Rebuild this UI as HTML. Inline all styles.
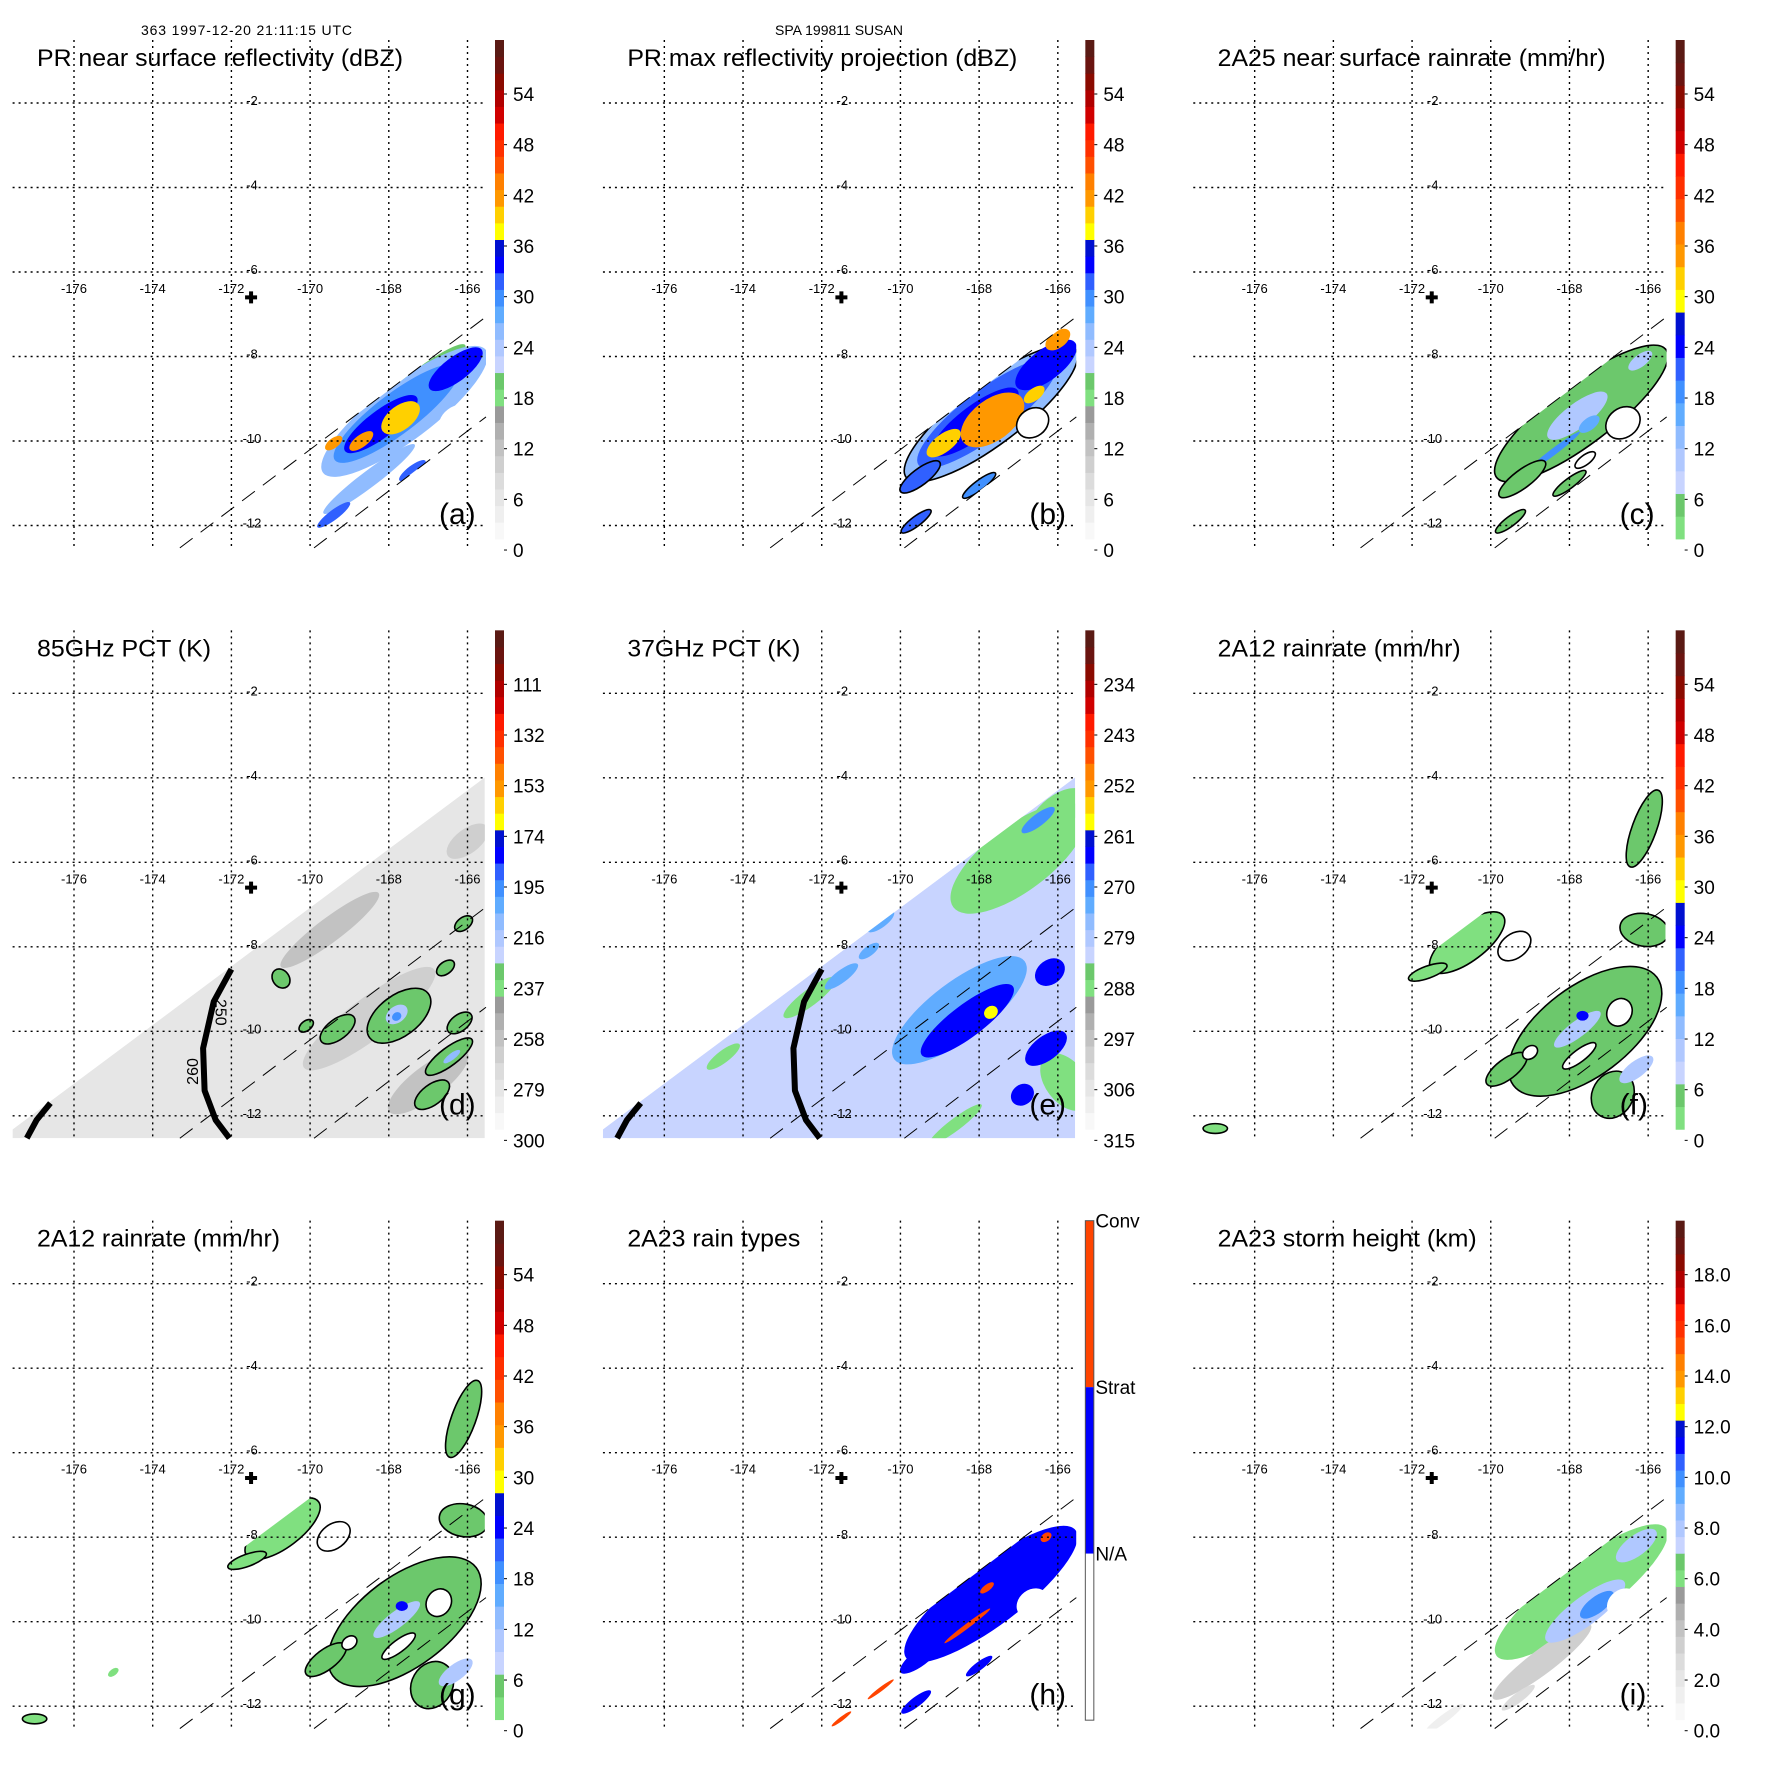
<!DOCTYPE html>
<html><head><meta charset="utf-8"><title>TRMM SUSAN 1997-12-20</title>
<style>body{margin:0;background:#fff}svg{display:block;font-family:"Liberation Sans",Arial,sans-serif}</style>
</head><body>
<svg id="fig" width="1771" height="1771" viewBox="0 0 1771 1771"><defs id="defs"></defs><rect width="1771" height="1771" fill="#fff"/></svg>
<script>
// ---------- tick labels ----------
const lonTicks=[-176,-174,-172,-170,-168,-166];
const latTicks=[-2,-4,-6,-8,-10,-12];
const dbzTicks=['54','48','42','36','30','24','18','12','6','0'];
const pct85Ticks=['111','132','153','174','195','216','237','258','279','300'];
const pct37Ticks=['234','243','252','261','270','279','288','297','306','315'];
const heightTicks=['18.0','16.0','14.0','12.0','10.0','8.0','6.0','4.0','2.0','0.0'];
const rainTypeLabels=['Conv','Strat','N/A'];
const centerLon=-171.5, centerLat=-6.6;
const dBase=283, eBase=283;
// ---------- panel (a) PR near-surface dBZ ----------
const aLon=[-167.3,-167.6,-167.8,-168.2,-166.3,-167.7,-168.7,-169.4,-166.3,-168.5,-169.4,-167.4];
const aLat=[-8.6,-9.3,-9.35,-9.6,-8.3,-9.45,-10.0,-10.05,-9.5,-10.9,-11.75,-10.7];
const aRx=[1.5,2.5,1.9,1.1,0.8,0.55,0.35,0.25,0.45,1.4,0.5,0.4];
const aRy=[0.25,0.7,0.5,0.33,0.3,0.3,0.15,0.12,0.32,0.2,0.12,0.12];
const aVal=[18,25,29,33,32,39,41,40,-1,25,30,31];
// ---------- panel (b) PR max dBZ ----------
const bLon=[-167.7,-167.8,-168.1,-166.3,-167.66,-168.9,-166.0,-166.64,-169.5,-169.6,-168.0,-166.6];
const bLat=[-9.35,-9.35,-9.55,-8.2,-9.5,-10.05,-7.6,-9.57,-10.85,-11.9,-11.05,-8.9];
const bRx=[2.6,2.1,1.3,0.9,0.9,0.5,0.35,0.42,0.6,0.45,0.5,0.3];
const bRy=[0.75,0.58,0.4,0.38,0.5,0.22,0.2,0.34,0.2,0.12,0.12,0.15];
const bVal=[24,30,33,32,41,39,40,-1,30,30,28,38];
const bOut=[1,0,0,0,0,0,0,1,1,1,1,0];
// ---------- panel (c) 2A25 rainrate ----------
const cLon=[-167.7,-167.8,-167.5,-168.4,-166.2,-166.64,-169.2,-169.5,-168.0,-167.6];
const cLat=[-9.35,-9.4,-9.6,-10.25,-8.1,-9.57,-10.9,-11.9,-11.0,-10.45];
const cRx=[2.6,0.9,0.3,0.8,0.35,0.45,0.7,0.45,0.5,0.3];
const cRy=[0.75,0.3,0.15,0.08,0.15,0.36,0.22,0.12,0.12,0.12];
const cVal=[3,9,16,18,9,-1,3,3,3,-1];
const cOut=[1,0,0,0,0,1,1,1,1,1];
// ---------- panel (d) 85GHz PCT ----------
const dLon=[-169.5,-168.5,-167.0,-166.0,-167.74,-169.3,-166.47,-166.2,-166.9,-170.74,-166.56,-166.1,-170.1,-167.8,-167.8,-166.4];
const dLat=[-7.6,-9.7,-11.2,-5.5,-9.63,-9.95,-10.6,-9.8,-11.5,-8.75,-8.5,-7.45,-9.87,-9.6,-9.65,-10.6];
const dRx=[1.5,2.0,1.2,0.6,0.9,0.5,0.7,0.35,0.5,0.2,0.25,0.25,0.2,0.3,0.12,0.25];
const dRy=[0.3,0.5,0.4,0.3,0.5,0.25,0.22,0.2,0.25,0.25,0.15,0.15,0.12,0.2,0.1,0.08];
const dVal=[265,268,265,270,235,235,235,235,235,235,235,235,235,222,200,215];
const dOut=[0,0,0,0,1,1,1,1,1,1,1,1,1,0,0,0];
// ---------- panel (e) 37GHz PCT ----------
const eLon=[-167.0,-166.0,-165.8,-172.3,-174.5,-168.6,-170.5,-171.5,-170.8,-166.5,-168.5,-168.3,-166.2,-166.3,-166.9,-167.7];
const eLat=[-5.9,-4.8,-11.2,-9.2,-10.6,-12.2,-7.4,-8.7,-8.1,-5.0,-9.5,-9.75,-8.6,-10.4,-11.5,-9.55];
const eRx=[2.0,0.8,0.5,0.8,0.5,0.8,0.4,0.5,0.3,0.5,2.0,1.4,0.4,0.6,0.3,0.18];
const eRy=[0.8,0.4,0.8,0.2,0.15,0.15,0.15,0.15,0.12,0.15,0.7,0.4,0.3,0.3,0.25,0.15];
const eVal=[289,289,289,289,289,289,275,275,275,273,276,266,266,266,266,259];
// ---------- panel (f) 2A12 rainrate ----------
const fLon=[-170.6,-171.6,-167.6,-166.1,-166.1,-166.9,-169.6,-169.4,-166.73,-167.75,-169.0,-169.0,-167.8,-167.67,-166.3,-177.0];
const fLat=[-7.9,-8.6,-10.0,-5.2,-7.6,-11.5,-10.9,-7.98,-9.55,-10.58,-10.5,-8.9,-9.95,-9.63,-10.9,-12.3];
const fRx=[1.1,0.5,2.2,1.0,0.4,0.6,0.6,0.45,0.35,0.5,0.2,0.5,0.7,0.15,0.5,0.3];
const fRy=[0.45,0.15,1.1,0.3,0.6,0.5,0.25,0.3,0.3,0.15,0.15,0.3,0.2,0.12,0.2,0.12];
const fRot=[-37,-20,-37,-70,-80,-60,-37,-37,-60,-37,-37,-37,-37,0,-37,0];
const fVal=[2,2,3,3,3,3,3,-1,-1,-1,-1,-1,10,22,10,2];
const fOut=[1,1,1,1,1,1,1,1,1,1,1,0,0,0,0,1];
// ---------- panel (g) 2A12 rainrate ----------
const gLon=[-170.7,-171.6,-167.6,-166.1,-166.1,-166.9,-169.6,-169.4,-166.73,-167.75,-169.0,-169.0,-167.8,-167.67,-166.3,-177.0,-175.0];
const gLat=[-7.8,-8.55,-10.0,-5.2,-7.6,-11.5,-10.9,-7.98,-9.55,-10.58,-10.5,-8.9,-9.95,-9.63,-11.2,-12.3,-11.2];
const gRx=[1.1,0.5,2.2,1.0,0.4,0.6,0.6,0.45,0.35,0.5,0.2,0.5,0.7,0.15,0.5,0.3,0.15];
const gRy=[0.45,0.15,1.1,0.3,0.6,0.5,0.25,0.3,0.3,0.15,0.15,0.3,0.2,0.12,0.2,0.12,0.08];
const gRot=[-37,-20,-37,-70,-80,-60,-37,-37,-60,-37,-37,-37,-37,0,-37,0,-37];
const gVal=[2,2,3,3,3,3,3,-1,-1,-1,-1,-1,10,22,10,2,2];
const gOut=[1,1,1,1,1,1,1,1,1,1,1,0,0,0,0,1,0];
// ---------- panel (h) 2A23 rain type (0 none, 1 strat, 2 conv) ----------
const hLon=[-167.7,-166.64,-168.3,-167.8,-166.3,-169.5,-169.6,-168.0,-170.5,-171.5];
const hLat=[-9.35,-9.57,-10.1,-9.2,-8.0,-10.85,-11.9,-11.05,-11.6,-12.3];
const hRx=[2.6,0.42,0.7,0.2,0.15,0.6,0.45,0.4,0.4,0.3];
const hRy=[0.75,0.34,0.06,0.08,0.1,0.2,0.12,0.1,0.05,0.05];
const hVal=[1,0,2,2,2,1,1,1,2,2];
// ---------- panel (i) storm height km ----------
const iLon=[-167.7,-168.7,-167.6,-167.3,-166.64,-167.4,-169.3,-171.2,-166.3];
const iLat=[-9.3,-10.95,-9.75,-9.6,-9.57,-11.1,-11.8,-12.3,-8.2];
const iRx=[2.6,1.5,1.2,0.5,0.42,0.5,0.5,0.6,0.6];
const iRy=[0.7,0.3,0.35,0.2,0.34,0.2,0.12,0.1,0.25];
const iVal=[5.8,3,7.5,9.5,-1,5.8,2,1,7.5];

// ---------- palettes ----------
const palA=['#f8f8f8','#efefef','#e6e6e6','#dcdcdc','#cfcfcf','#c2c2c2','#b0b0b0','#9a9a9a','#80e080','#6cc86c','#c8d4ff','#b0c8ff','#90bcff','#60acff','#4090ff','#3060ff','#0000ff','#0010d0','#ffff00','#ffd000','#ff9800','#ff8000','#ff5000','#ff3000','#ff1a00','#d00000','#b00000','#8a0a00','#6a1410','#5a1a14'];
const palC=palA.slice(8);
function colA(u){let i=Math.floor(u/2);i=Math.max(0,Math.min(29,i));return palA[i];}
function colC(v){let i=Math.floor(v/60*22);i=Math.max(0,Math.min(21,i));return palC[i];}

const NS='http://www.w3.org/2000/svg';
const svg=document.getElementById('fig');
const defs=document.getElementById('defs');
function mk(tag,parent){const e=document.createElementNS(NS,tag);(parent||svg).appendChild(e);return e;}
function X(lon){return 74+(lon+176)*39.35;}
function Y(lat){return 103+(-2-lat)*42.25;}
const prSwath=[[-173.31,-12.53],[-165.53,-7.06],[-165.53,-9.43],[-169.9,-12.53]];
const tmiSwath=[[-177.56,-12.32],[-165.56,-3.99],[-165.56,-12.53],[-177.56,-12.53]];
const arcMain=[[-172.0,-8.53],[-172.45,-9.3],[-172.72,-10.4],[-172.68,-11.4],[-172.4,-12.1],[-172.05,-12.53]];
const arcSmall=[[-176.6,-11.7],[-176.95,-12.1],[-177.2,-12.53]];
function pts(arr){return arr.map(p=>X(p[0]).toFixed(1)+','+Y(p[1]).toFixed(1)).join(' ');}

const S=1771/3;
const panels=[
 {k:'a',c:0,r:0,title:'PR near surface reflectivity (dBZ)',tw:366,sw:prSwath,lon:aLon,lat:aLat,rx:aRx,ry:aRy,val:aVal,col:v=>colA(v),bar:'A',ticks:dbzTicks},
 {k:'b',c:1,r:0,title:'PR max reflectivity projection (dBZ)',tw:390,sw:prSwath,lon:bLon,lat:bLat,rx:bRx,ry:bRy,val:bVal,out:bOut,col:v=>colA(v),bar:'A',ticks:dbzTicks},
 {k:'c',c:2,r:0,title:'2A25 near surface rainrate (mm/hr)',tw:388,sw:prSwath,lon:cLon,lat:cLat,rx:cRx,ry:cRy,val:cVal,out:cOut,col:v=>colC(v),bar:'C',ticks:dbzTicks},
 {k:'d',c:0,r:1,title:'85GHz PCT (K)',tw:174,sw:tmiSwath,base:colA((300-dBase)/21*6),arcs:true,lon:dLon,lat:dLat,rx:dRx,ry:dRy,val:dVal,out:dOut,col:v=>colA((300-v)/21*6),bar:'A',ticks:pct85Ticks},
 {k:'e',c:1,r:1,title:'37GHz PCT (K)',tw:173,sw:tmiSwath,base:colA((315-eBase)/9*6),arcs:true,lon:eLon,lat:eLat,rx:eRx,ry:eRy,val:eVal,col:v=>colA((315-v)/9*6),bar:'A',ticks:pct37Ticks},
 {k:'f',c:2,r:1,title:'2A12 rainrate (mm/hr)',tw:243,sw:tmiSwath,lon:fLon,lat:fLat,rx:fRx,ry:fRy,rot:fRot,val:fVal,out:fOut,col:v=>colC(v),bar:'C',ticks:dbzTicks},
 {k:'g',c:0,r:2,title:'2A12 rainrate (mm/hr)',tw:243,sw:tmiSwath,lon:gLon,lat:gLat,rx:gRx,ry:gRy,rot:gRot,val:gVal,out:gOut,col:v=>colC(v),bar:'C',ticks:dbzTicks},
 {k:'h',c:1,r:2,title:'2A23 rain types',tw:173,sw:prSwath,lon:hLon,lat:hLat,rx:hRx,ry:hRy,val:hVal,col:v=>v==2?'#ff4400':(v==1?'#0000ff':'#ffffff'),bar:'H',ticks:rainTypeLabels},
 {k:'i',c:2,r:2,title:'2A23 storm height (km)',tw:259,sw:prSwath,lon:iLon,lat:iLat,rx:iRx,ry:iRy,val:iVal,col:v=>colA(v*3),bar:'A',ticks:heightTicks}
];

const h1=mk('text');h1.setAttribute('x','141');h1.setAttribute('y','35');h1.setAttribute('font-size','14');h1.setAttribute('textLength','211');h1.textContent='363 1997-12-20 21:11:15 UTC';


const h2=mk('text');h2.setAttribute('x','839');h2.setAttribute('y','35');h2.setAttribute('font-size','14');h2.setAttribute('text-anchor','middle');h2.textContent='SPA 199811 SUSAN';



panels.forEach(p=>{
  const g=mk('g');
  g.setAttribute('transform','translate('+(p.c*S).toFixed(2)+','+(p.r*S).toFixed(2)+')');
  
  
  const cp=mk('clipPath',defs);cp.setAttribute('id','clip-'+p.k);
  const cpp=mk('polygon',cp);cpp.setAttribute('points',pts(p.sw));
  const data=mk('g',g);data.setAttribute('clip-path','url(#clip-'+p.k+')');
  
  
  if(p.base){const bp=mk('polygon',data);bp.setAttribute('points',pts(p.sw));bp.setAttribute('fill',p.base);
    
    }
  for(let i=0;i<p.lon.length;i++){
    const e=mk('ellipse',data);
    const cx=X(p.lon[i]),cy=Y(p.lat[i]);
    e.setAttribute('cx',cx.toFixed(1));e.setAttribute('cy',cy.toFixed(1));
    e.setAttribute('rx',(p.rx[i]*40.8).toFixed(1));e.setAttribute('ry',(p.ry[i]*40.8).toFixed(1));
    const rot=p.rot?p.rot[i]:-37;
    e.setAttribute('transform','rotate('+rot+' '+cx.toFixed(1)+' '+cy.toFixed(1)+')');
    e.setAttribute('fill',p.val[i]<0?'#ffffff':p.col(p.val[i]));
    if(p.out&&p.out[i]){e.setAttribute('stroke','#000');e.setAttribute('stroke-width','1.6');}
    
    
  }
  [[prSwath[0],prSwath[1]],[prSwath[3],prSwath[2]]].forEach((ln,j)=>{
    const l=mk('line',g);l.setAttribute('x1',X(ln[0][0]));l.setAttribute('y1',Y(ln[0][1]));l.setAttribute('x2',X(ln[1][0]));l.setAttribute('y2',Y(ln[1][1]));
    l.setAttribute('stroke','#000');l.setAttribute('stroke-width','1');l.setAttribute('stroke-dasharray','16 10');
    
    
  });
  if(p.arcs){
    [arcMain,arcSmall].forEach((a,j)=>{
      const pl=mk('polyline',g);pl.setAttribute('points',pts(a));pl.setAttribute('fill','none');pl.setAttribute('stroke','#000');pl.setAttribute('stroke-width','6');pl.setAttribute('stroke-linejoin','round');
      
      
    });
    if(p.k==='d'){
      [['250',-172.4,-9.55,90],['260',-172.85,-10.95,-90]].forEach(t=>{
        const tx=mk('text',g);tx.setAttribute('x',X(t[1]));tx.setAttribute('y',Y(t[2]));tx.setAttribute('font-size','16');tx.setAttribute('text-anchor','middle');
        tx.setAttribute('transform','rotate('+t[3]+' '+X(t[1])+' '+Y(t[2])+')');tx.textContent=t[0];
        
        
      });
    }
  }
  lonTicks.forEach(lo=>{
    const l=mk('line',g);l.setAttribute('x1',X(lo));l.setAttribute('x2',X(lo));l.setAttribute('y1','40');l.setAttribute('y2','548');
    l.setAttribute('stroke','#000');l.setAttribute('stroke-width','1.4');l.setAttribute('stroke-dasharray','2 4');
    
    
    const t=mk('text',g);t.setAttribute('x',X(lo));t.setAttribute('y','293');t.setAttribute('font-size','13');t.setAttribute('text-anchor','middle');t.textContent=String(lo);
    
    
  });
  latTicks.forEach(la=>{
    const l=mk('line',g);l.setAttribute('x1','12.6');l.setAttribute('x2','486');l.setAttribute('y1',Y(la));l.setAttribute('y2',Y(la));
    l.setAttribute('stroke','#000');l.setAttribute('stroke-width','1.4');l.setAttribute('stroke-dasharray','2 4');
    
    
    const t=mk('text',g);t.setAttribute('x','252');t.setAttribute('y',(Y(la)+2).toFixed(1));t.setAttribute('font-size','13');t.setAttribute('text-anchor','middle');t.textContent=String(la);
    
    
  });
  const cx=X(centerLon),cy=Y(centerLat);
  const pm=mk('path',g);pm.setAttribute('d','M'+(cx-6)+' '+cy+'H'+(cx+6)+'M'+cx+' '+(cy-6)+'V'+(cy+6));pm.setAttribute('stroke','#000');pm.setAttribute('stroke-width','4');
  
  
  const tt=mk('text',g);tt.setAttribute('x','37');tt.setAttribute('y','66');tt.setAttribute('font-size','24');tt.setAttribute('textLength',p.tw);tt.setAttribute('lengthAdjust','spacingAndGlyphs');tt.textContent=p.title;
  
  
  const lt=mk('text',g);lt.setAttribute('x','439');lt.setAttribute('y','524');lt.setAttribute('font-size','30');lt.textContent='('+p.k+')';
  
  
  const cb=mk('g',g);
  
  
  if(p.bar==='H'){
    const cols=['#ff4400','#0000ff','#ffffff'];
    cols.forEach((c,j)=>{const r=mk('rect',cb);r.setAttribute('x','495');r.setAttribute('y',(40+j*166.5).toFixed(1));r.setAttribute('width','8.5');r.setAttribute('height','166.5');r.setAttribute('fill',c);
      
      });
    const bd=mk('rect',cb);bd.setAttribute('x','495');bd.setAttribute('y','40');bd.setAttribute('width','8.5');bd.setAttribute('height','499.5');bd.setAttribute('fill','none');bd.setAttribute('stroke','#555');bd.setAttribute('stroke-width','1');
    p.ticks.forEach((s,j)=>{const t=mk('text',cb);t.setAttribute('x','505');t.setAttribute('y',(40+j*166.5+7).toFixed(1));t.setAttribute('font-size','19');t.textContent=s;
      
      });
  } else {
    const pal=p.bar==='A'?palA:palC;const n=pal.length;const hh=499/n;
    for(let j=0;j<n;j++){const r=mk('rect',cb);r.setAttribute('x','495');r.setAttribute('y',(539-(j+1)*hh).toFixed(2));r.setAttribute('width','9');r.setAttribute('height',(hh+0.4).toFixed(2));r.setAttribute('fill',pal[j]);
      
      }
    p.ticks.forEach((s,j)=>{const y=94+j*50.67;
      const tk=mk('line',cb);tk.setAttribute('x1','504');tk.setAttribute('x2','507');tk.setAttribute('y1',y);tk.setAttribute('y2',y);tk.setAttribute('stroke','#000');
      const t=mk('text',cb);t.setAttribute('x','513');t.setAttribute('y',(y+7).toFixed(1));t.setAttribute('font-size','19');t.textContent=s;
      
      });
  }
});
</script>
</body></html>
